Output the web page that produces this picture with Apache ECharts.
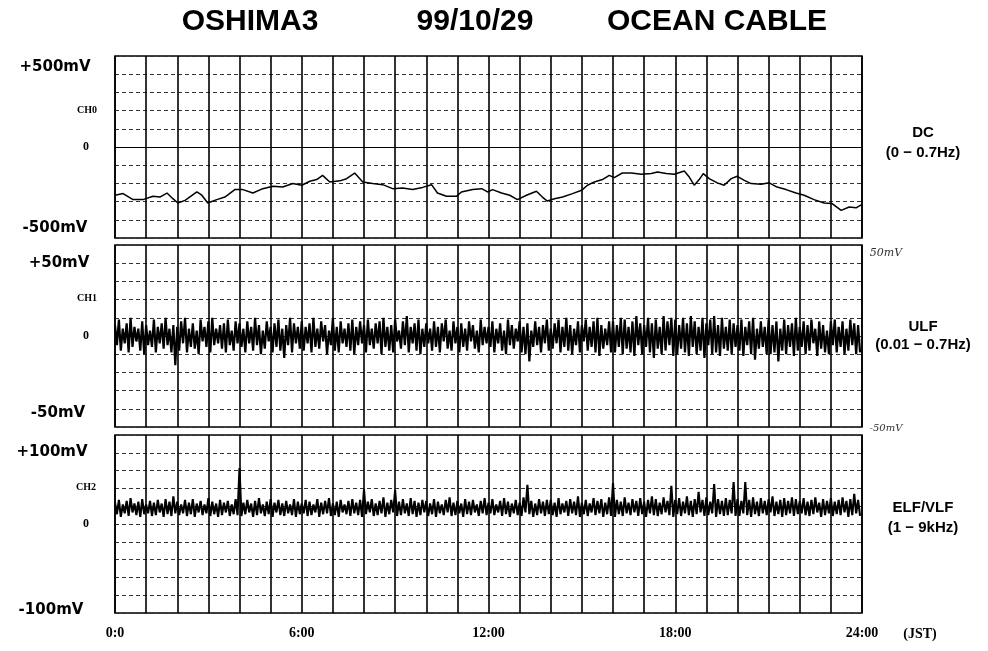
<!DOCTYPE html>
<html>
<head>
<meta charset="utf-8">
<script src="https://cdn.jsdelivr.net/npm/echarts@6/dist/echarts.min.js"></script>
<style>
  html, body { margin: 0; background: #fff; }
  #chart { width: 988px; height: 651px; }
</style>
</head>
<body>
<div id="chart"></div>
<script>
// CH0 DC trace (hour, mV)
const dcHours = [0,0.26,0.58,0.90,1.22,1.44,1.67,1.86,2.02,2.25,2.63,2.79,2.98,3.27,3.53,3.85,4.11,4.43,4.75,5.07,
  5.39,5.71,6.00,6.26,6.48,6.67,6.90,7.22,7.44,7.70,7.96,8.28,8.60,8.92,9.24,9.56,9.88,10.17,10.36,10.65,
  10.97,11.13,11.49,11.78,11.97,12.13,12.42,12.68,12.93,13.22,13.54,13.73,13.89,14.12,14.38,14.70,14.99,15.18,15.40,15.66,
  15.88,16.04,16.30,16.59,16.91,17.23,17.43,17.71,17.97,18.29,18.45,18.61,18.77,18.90,19.09,19.35,19.57,19.80,19.99,20.22,
  20.44,20.76,21.02,21.27,21.56,21.88,22.14,22.46,22.78,23.04,23.33,23.59,23.81,24];
const dcMv = [-265,-256,-289,-289,-271,-275,-253,-284,-308,-293,-247,-265,-308,-289,-275,-234,-234,-253,-229,-216,
  -220,-201,-210,-188,-179,-156,-192,-186,-174,-143,-192,-201,-207,-229,-225,-234,-222,-207,-253,-271,
  -271,-247,-234,-229,-247,-234,-253,-265,-289,-265,-243,-275,-297,-284,-275,-256,-238,-210,-192,-179,
  -156,-168,-143,-143,-150,-146,-137,-146,-150,-132,-165,-210,-179,-146,-174,-197,-210,-174,-161,-183,
  -201,-205,-197,-220,-234,-253,-265,-289,-308,-311,-348,-330,-334,-315];

// CH1 ULF: upper / lower swing per 7.5-minute slot (mV)
const ulfHi = [
  6,9,4,7,10,5,4,8,6,3,9,5,7,10,4,6,
  5,8,10,4,7,3,9,5,8,10,4,6,7,9,3,8,
  7,4,8,5,10,6,3,8,5,7,9,4,6,10,7,5,
  8,5,7,10,4,8,6,3,10,5,8,4,7,9,5,8,
  6,9,4,7,8,10,5,6,9,3,8,11,5,7,9,4,
  7,4,8,5,7,9,3,8,5,7,4,8,6,3,9,5,
  5,8,4,7,3,9,6,4,8,5,7,3,8,5,6,9,
  4,7,9,5,10,6,4,8,6,9,5,8,10,6,4,8,
  8,6,10,9,5,8,11,7,6,10,7,9,5,11,8,10,
  9,6,10,7,11,8,5,10,7,9,11,6,10,5,9,7,
  6,9,5,8,10,4,8,5,9,6,8,4,9,6,7,10,
  5,8,6,9,4,8,6,3,8,9,5,8,4,9,7,6];
const ulfLo = [
  -5,-8,-4,-9,-6,-3,-8,-10,-5,-6,-9,-4,-7,-5,-9,-16,
  -8,-4,-9,-6,-7,-10,-3,-6,-9,-5,-4,-7,-9,-5,-8,-4,
  -6,-9,-4,-8,-5,-10,-7,-3,-9,-6,-8,-12,-5,-9,-4,-7,
  -8,-4,-9,-6,-7,-3,-10,-5,-8,-9,-4,-6,-8,-10,-5,-4,
  -9,-5,-7,-4,-10,-6,-8,-9,-3,-7,-5,-9,-4,-8,-10,-6,
  -4,-8,-6,-9,-3,-7,-8,-4,-9,-6,-8,-3,-7,-9,-5,-4,
  -6,-9,-4,-8,-10,-5,-7,-3,-9,-10,-14,-6,-5,-9,-4,-8,
  -7,-4,-9,-6,-8,-10,-5,-9,-3,-8,-6,-9,-11,-7,-5,-9,
  -9,-6,-10,-7,-9,-11,-5,-10,-6,-9,-12,-7,-10,-8,-5,-11,
  -10,-7,-9,-11,-6,-10,-8,-12,-5,-10,-9,-11,-7,-8,-10,-6,
  -8,-11,-5,-10,-13,-7,-6,-10,-10,-9,-14,-8,-10,-6,-11,-8,
  -6,-10,-8,-4,-11,-7,-9,-10,-5,-9,-6,-10,-8,-5,-10,-9];

// CH2 ELF/VLF: upper / lower swing per 7.5-minute slot (mV)
const elfHi = [
  24,27,22,26,29,23,25,28,22,26,24,27,23,28,25,31,
  25,22,27,24,28,23,26,22,29,25,23,27,24,26,22,28,
  63,24,27,23,26,29,22,25,28,24,27,23,26,22,28,25,
  23,27,25,22,28,24,26,29,23,25,27,22,26,28,24,27,
  39,25,28,23,26,30,24,27,38,25,28,23,29,26,24,27,
  26,23,28,25,22,27,30,24,26,23,28,25,27,22,26,29,
  24,28,22,26,29,25,23,27,24,30,44,26,23,28,25,27,
  27,24,29,23,26,28,25,31,24,27,23,29,26,28,24,30,
  46,27,25,30,24,28,26,29,25,27,31,28,24,30,26,43,
  27,29,25,31,26,28,36,27,30,25,45,28,26,29,27,47,
  28,26,47,27,30,25,29,26,28,31,25,27,29,26,30,28,
  26,29,25,27,30,24,28,26,29,25,27,30,26,28,34,27];
const elfLo = [
  11,8,12,9,13,10,8,11,12,9,10,13,8,11,9,12,
  10,12,9,11,8,13,10,12,9,11,8,10,13,9,11,10,
  9,11,13,8,10,12,9,11,8,13,10,9,12,10,8,11,
  12,9,10,13,8,11,12,9,10,8,13,11,9,12,10,8,
  11,13,9,10,12,8,11,13,9,10,12,9,11,8,10,13,
  9,11,8,12,10,13,9,10,12,8,11,10,13,9,12,10,
  12,10,13,9,11,8,12,10,9,13,11,8,10,12,9,11,
  10,8,11,13,9,12,10,8,11,9,13,10,12,8,11,9,
  8,11,9,12,10,13,9,11,8,12,10,9,11,13,10,8,
  11,9,12,10,8,11,13,9,10,12,8,11,9,10,12,9,
  9,12,10,8,11,9,12,10,13,9,11,8,10,12,9,11,
  12,10,9,11,13,8,10,12,9,11,10,13,8,10,12,9];

const hourTicks = [0, 6, 12, 18, 24];
const hourLabels = ['0:0', '6:00', '12:00', '18:00', '24:00'];
const channelNames = ['CH0', 'CH1', 'CH2'];
const rangeMax = [500, 50, 100];
const rangeLabels = [['+500mV', '-500mV'], ['+50mV', '-50mV'], ['+100mV', '-100mV']];
const bandNames = [['DC', '(0 − 0.7Hz)'], ['ULF', '(0.01 − 0.7Hz)'], ['ELF/VLF', '(1 − 9kHz)']];
const titleParts = ['OSHIMA3', '99/10/29', 'OCEAN CABLE'];

// up/down swing within each slot
function swing(hi, lo) {
  const step = 24 / hi.length;
  const pts = [];
  hi.forEach((h, i) => {
    pts.push([i * step, h]);
    pts.push([i * step + step / 2, lo[i]]);
  });
  return pts;
}

const chart = echarts.init(document.getElementById('chart'));

const panels = [
  { top: 56, height: 182 },
  { top: 245, height: 182 },
  { top: 435, height: 178 }
];

const grids = panels.map(p => ({
  left: 115, width: 747, top: p.top, height: p.height,
  show: true, borderColor: '#000', borderWidth: 1.6, backgroundColor: '#fff'
}));

const xAxes = panels.map((p, i) => ({
  type: 'value', gridIndex: i, min: 0, max: 24, interval: 1,
  axisLine: { show: false }, axisTick: { show: false },
  axisLabel: {
    show: i === 2, margin: 13,
    fontFamily: 'Liberation Serif', fontWeight: 'bold', fontSize: 14, color: '#000',
    formatter: v => { const k = hourTicks.indexOf(v); return k >= 0 ? hourLabels[k] : ''; }
  },
  splitLine: { show: true, lineStyle: { color: '#000', width: 1.6 } }
}));

const yAxes = rangeMax.map((m, i) => ({
  type: 'value', gridIndex: i, min: -m, max: m, interval: m / 5,
  axisLine: { show: false }, axisTick: { show: false },
  axisLabel: {
    margin: 26, fontFamily: 'Liberation Serif', fontWeight: 'bold', fontSize: 12, color: '#000',
    formatter: v => v === 0 ? '0' : ''
  },
  splitLine: { show: true, lineStyle: { color: '#333', width: 1, type: [4, 3] } }
}));

const series = [
  {
    type: 'line', xAxisIndex: 0, yAxisIndex: 0, showSymbol: false, animation: false,
    data: dcHours.map((h, i) => [h, dcMv[i]]),
    lineStyle: { color: '#000', width: 1.5 },
    markLine: {
      silent: true, symbol: 'none', label: { show: false },
      lineStyle: { color: '#000', width: 1, type: 'solid' },
      data: [{ yAxis: 0 }]
    }
  },
  {
    type: 'line', xAxisIndex: 1, yAxisIndex: 1, showSymbol: false, animation: false,
    data: swing(ulfHi, ulfLo),
    lineStyle: { color: '#000', width: 2.2, join: 'bevel' }
  },
  {
    type: 'line', xAxisIndex: 2, yAxisIndex: 2, showSymbol: false, animation: false,
    data: swing(elfHi, elfLo),
    lineStyle: { color: '#000', width: 2.1, join: 'bevel' }
  }
];

const txt = (x, y, text, font, extra) => ({
  type: 'text', x: x, y: y,
  style: Object.assign({ text: text, font: font, fill: '#000', align: 'center', verticalAlign: 'middle' }, extra || {})
});

const leftPos = [
  { top: [55, 67], ch: [87, 110], bot: [55, 228] },
  { top: [59, 263], ch: [87, 298], bot: [58, 413] },
  { top: [52, 452], ch: [86, 487], bot: [51, 610] }
];
const rightPos = [[133, 153], [327, 345], [508, 528]];

const graphics = [];
titleParts.forEach((t, i) => {
  graphics.push(txt([250, 475, 717][i], 22, t, 'bold 30px "Liberation Sans"'));
});
leftPos.forEach((p, i) => {
  graphics.push(txt(p.top[0], p.top[1], rangeLabels[i][0], 'bold 15px "DejaVu Sans"'));
  graphics.push(txt(p.bot[0], p.bot[1], rangeLabels[i][1], 'bold 15px "DejaVu Sans"'));
  graphics.push(txt(p.ch[0], p.ch[1], channelNames[i], 'bold 10px "Liberation Serif"'));
});
rightPos.forEach((p, i) => {
  graphics.push(txt(923, p[0], bandNames[i][0], 'bold 15px "Liberation Sans"'));
  graphics.push(txt(923, p[1], bandNames[i][1], 'bold 15px "Liberation Sans"'));
});
graphics.push(txt(920, 634, '(JST)', 'bold 14px "Liberation Serif"'));
// handwritten notes on the ULF scale
graphics.push(txt(886, 253, '50mV', 'italic 11px "DejaVu Serif"', { fill: '#333' }));
graphics.push(txt(886, 428, '-50mV', 'italic 10px "DejaVu Serif"', { fill: '#333' }));

chart.setOption({
  backgroundColor: '#fff',
  animation: false,
  grid: grids,
  xAxis: xAxes,
  yAxis: yAxes,
  series: series,
  graphic: graphics
});
</script>
</body>
</html>
